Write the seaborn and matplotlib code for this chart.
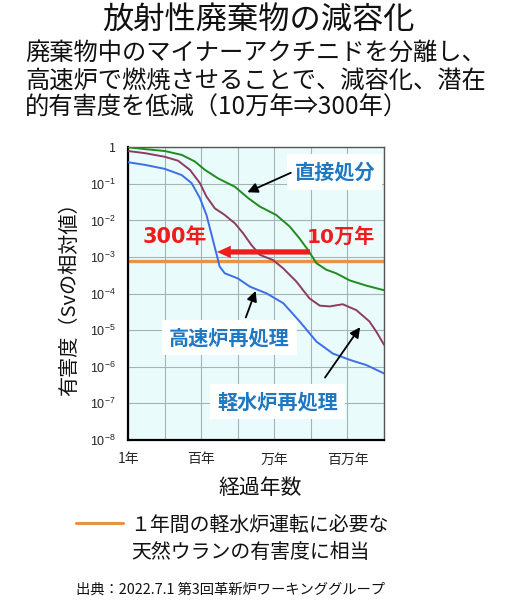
import numpy as np
import pandas as pd
import matplotlib
matplotlib.use("Agg")
import matplotlib.pyplot as plt
from matplotlib.lines import Line2D
import seaborn as sns

# values (years, relative toxicity)
direct_years = [1, 2.9, 10, 29, 66, 126, 288, 832, 1905, 3981, 11220, 26300, 49000, 83200,
                141000, 263000, 490000, 1150000, 3240000, 10000000]
direct_tox = [1.0, 0.89, 0.79, 0.62, 0.41, 0.24, 0.141, 0.083, 0.041, 0.024, 0.0141, 0.0068,
              0.0032, 0.00155, 0.00068, 0.00045, 0.00036, 0.00023, 0.000166, 0.000124]

lwr_years = [1, 2.9, 10, 23, 49, 91, 138, 234, 437, 832, 1380, 2340, 3981, 9120, 17400,
             39800, 91200, 174000, 324000, 741000, 1740000, 3980000, 6170000, 10000000]
lwr_tox = [0.79, 0.69, 0.55, 0.43, 0.24, 0.105, 0.045, 0.0214, 0.0141, 0.0083, 0.0045, 0.00214,
           0.00115, 0.00083, 0.00049, 0.000214, 0.000074, 0.000047, 0.0000447, 0.0000513,
           0.0000355, 0.0000174, 0.0000091, 0.000004]

fbr_years = [1, 2.9, 10, 29, 54, 91, 138, 191, 263, 316, 437, 1000, 2140, 6030, 17400, 49000,
             141000, 398000, 1150000, 3240000, 10000000]
fbr_tox = [0.39, 0.33, 0.257, 0.174, 0.105, 0.041, 0.0141, 0.004, 0.00115, 0.00055, 0.00036,
           0.00026, 0.000155, 0.000102, 0.000055, 0.0000174, 0.0000049, 0.0000023, 0.00000155,
           0.00000112, 0.00000066]

uranium_level = 0.00079
arrow_y = 0.00138
arrow_from = 112000
arrow_to = 224

series_names = ["直接処分", "軽水炉再処理", "高速炉再処理"]
colors = {"直接処分": "#1e8c1e", "軽水炉再処理": "#8c3c64", "高速炉再処理": "#3c6ee6"}

xtick_vals = [1, 10, 100, 1000, 10000, 100000, 1000000, 10000000]
xtick_labels = ["1年", "", "百年", "", "万年", "", "百万年", ""]
ytick_vals = [1, 1e-1, 1e-2, 1e-3, 1e-4, 1e-5, 1e-6, 1e-7, 1e-8]
ytick_labels = ["1"] + [r"$10^{-%d}$" % i for i in range(1, 9)]

title = "放射性廃棄物の減容化"
subtitle = ["廃棄物中のマイナーアクチニドを分離し、",
            "高速炉で燃焼させることで、減容化、潜在",
            "的有害度を低減（10万年⇒300年）"]
legend_lines = ["１年間の軽水炉運転に必要な", "天然ウランの有害度に相当"]
source = "出典：2022.7.1 第3回革新炉ワーキンググループ"

df = pd.concat([
    pd.DataFrame({"years": direct_years, "tox": direct_tox, "series": series_names[0]}),
    pd.DataFrame({"years": lwr_years, "tox": lwr_tox, "series": series_names[1]}),
    pd.DataFrame({"years": fbr_years, "tox": fbr_tox, "series": series_names[2]}),
])

sns.set_theme(style="whitegrid")
plt.rcParams['font.family'] = ['Noto Sans CJK JP', 'DejaVu Sans']
plt.rcParams['mathtext.fontset'] = 'custom'
plt.rcParams['mathtext.rm'] = 'Liberation Sans'

fig = plt.figure(figsize=(5.1, 6), dpi=100)
fig.patch.set_facecolor("white")
ax = fig.add_axes([0.2516, 0.2667, 0.5014, 0.4878])
ax.set_facecolor("#eafbfc")
ax.set_xscale("log")
ax.set_yscale("log")

sns.lineplot(data=df, x="years", y="tox", hue="series", palette=colors,
             linewidth=1.4, legend=False, ax=ax, zorder=3)
ax.axhline(uranium_level, color="#e8914a", lw=2.4, zorder=2)

ax.set_xlim(1, 1e7)
ax.set_ylim(1e-8, 1)
ax.set_xticks(xtick_vals)
ax.set_xticklabels(xtick_labels, fontsize=10)
ax.set_yticks(ytick_vals)
ax.set_yticklabels(ytick_labels, fontsize=9)
ax.minorticks_off()
ax.tick_params(axis="x", length=0, pad=9)
ax.tick_params(axis="y", length=0, pad=9)
ax.grid(True, color="#a3b4b4", lw=0.8)
ax.set_xlabel("")
ax.set_ylabel("")
for side in ["left", "bottom"]:
    ax.spines[side].set_color("black")
    ax.spines[side].set_linewidth(1.6)
for side in ["top", "right"]:
    ax.spines[side].set_color("#555555")
    ax.spines[side].set_linewidth(1.0)

# red arrow 10万年 -> 300年
ax.annotate("", xy=(arrow_to, arrow_y), xytext=(arrow_from, arrow_y),
            arrowprops=dict(arrowstyle="simple,head_width=0.9,head_length=1.0,tail_width=0.38",
                            mutation_scale=10, color="#ee1c1c", lw=0), zorder=5)
red_font = ["DejaVu Sans", "Noto Sans CJK JP"]
ax.text(19, 0.0036, "300年", color="#ee1c1c", fontsize=15, fontweight="bold",
        family=red_font, ha="center", va="center", zorder=6)
ax.text(670000, 0.0036, "10万年", color="#ee1c1c", fontsize=14.5, fontweight="bold",
        family=red_font, ha="center", va="center", zorder=6)

# series labels with white boxes
box = dict(facecolor="white", edgecolor="none", boxstyle="square,pad=0.35")
label_blue = "#1f78c1"
ax.text(447000, 0.211, "直接処分", color=label_blue, fontsize=14.5, fontweight="bold",
        ha="center", va="center", bbox=box, zorder=6)
ax.text(589, 6.2e-6, "高速炉再処理", color=label_blue, fontsize=14.5, fontweight="bold",
        ha="center", va="center", bbox=box, zorder=6)
ax.text(12000, 1.12e-7, "軽水炉再処理", color=label_blue, fontsize=14.5, fontweight="bold",
        ha="center", va="center", bbox=box, zorder=6)

arr = dict(arrowstyle="-|>", color="black", lw=1.3, mutation_scale=15)
ax.annotate("", xy=(1550, 0.055), xytext=(33000, 0.216), arrowprops=arr, zorder=7)
ax.annotate("", xy=(3240, 1.4e-4), xytext=(1550, 1.9e-5), arrowprops=arr, zorder=7)
ax.annotate("", xy=(2450000, 1.4e-5), xytext=(219000, 4.4e-7), arrowprops=arr, zorder=7)

# axis titles
fig.text(0.137, 0.51, "有害度（Svの相対値）", rotation=90, fontsize=14.5,
         ha="center", va="center", color="#111111")
fig.text(0.51, 0.187, "経過年数", fontsize=15, ha="center", va="center", color="#111111")

# header
fig.text(0.506, 0.967, title, fontsize=22.5, ha="center", va="center", color="#111111")
for i, line in enumerate(subtitle):
    fig.text(0.049, 0.912 - i * 0.0458, line, fontsize=17.5, ha="left", va="center",
             color="#111111")

# legend for uranium line
fig.add_artist(Line2D([0.149, 0.241], [0.128, 0.128], color="#e8914a", lw=2.2,
                      transform=fig.transFigure))
fig.text(0.255, 0.125, legend_lines[0], fontsize=14.3, ha="left", va="center", color="#111111")
fig.text(0.257, 0.080, legend_lines[1], fontsize=14.3, ha="left", va="center", color="#111111")
fig.text(0.149, 0.018, source, fontsize=10.3, ha="left", va="center", color="#111111")

fig.savefig("out.png", dpi=100)
